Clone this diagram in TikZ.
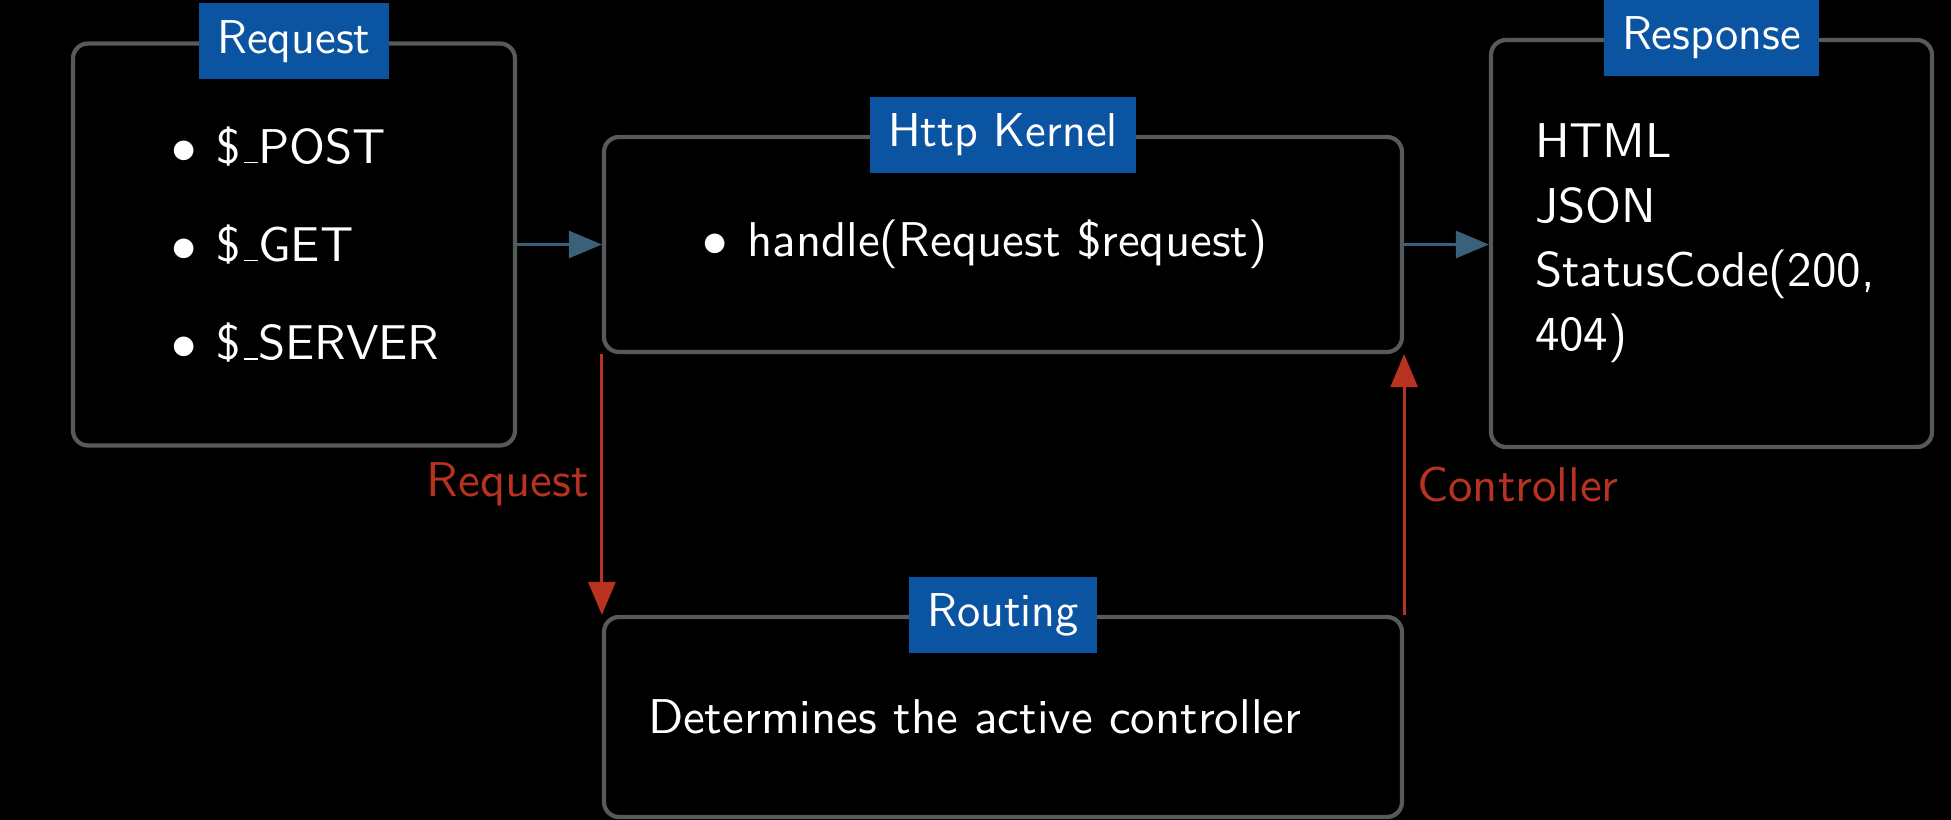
\documentclass[tikz,border=0pt]{standalone}
\usepackage{fontspec}
\newfontfamily\bodysf{lmsans10-regular}[Extension=.otf]
\usetikzlibrary{arrows.meta,positioning}
\definecolor{boxgray}{HTML}{58595B}
\definecolor{tagblue}{HTML}{0B54A2}
\definecolor{flowblue}{HTML}{3B6079}
\definecolor{ctrlred}{HTML}{B83220}
\newcommand{\bitem}[1]{\hspace*{0.54cm}$\bullet$\hspace{0.2cm}#1}
\newcommand{\us}{\kern.06em\vbox{\hrule width.3em height .5pt}}

\begin{document}
\begin{tikzpicture}[
 font=\bodysf\fontsize{13.9}{18.3}\selectfont,
 box/.style={draw=boxgray,line width=1.2pt,rounded corners=0.15cm,text=white,align=left},
 tag/.style={fill=tagblue,text=white,minimum height=0.76cm,inner xsep=0.18cm,inner ysep=0pt,
  font=\sffamily\fontsize{13.5}{18.3}\selectfont},
 flow/.style={draw=flowblue,line width=0.8pt,-{Triangle[length=0.33cm,width=0.27cm]}},
 ctrl/.style={draw=ctrlred,line width=0.8pt,-{Triangle[length=0.33cm,width=0.27cm]}},
]
 % background
 \path[fill=black,use as bounding box] (0,0) rectangle (19.51,-8.20);

 % boxes
 \node[box,minimum width=4.42cm,minimum height=4.02cm,text width=3.54cm] (req) at (2.94,-2.445)
  {\bitem{\$\us POST}\\[9.6pt]\bitem{\$\us GET}\\[9.6pt]\bitem{\$\us SERVER}};
 \node[box,minimum width=7.98cm,minimum height=2.15cm,text width=7.10cm] (kernel) at (10.03,-2.445)
  {\bitem{handle(Request \$request)}};
 \node[box,minimum width=4.41cm,minimum height=4.07cm,text width=3.53cm] (resp) at (17.115,-2.435)
  {HTML\\JSON\\StatusCode(200,\\404)};
 \node[box,minimum width=7.98cm,minimum height=2.00cm,text width=7.10cm] (rout) at (10.03,-7.17)
  {Determines the active controller};

 % titles
 \foreach \n/\t in {req/Request,kernel/Http Kernel,resp/Response,rout/Routing}
  \node[tag] (\n-tag) at (\n.north) {\t};

 % connectors
 \draw[flow] (req.east) -- (kernel.west);
 \draw[flow] (kernel.east) -- (kernel.east -| resp.west);
 \draw[ctrl] (kernel.south west) -- (kernel.south west |- rout.north)
  node[midway,left,text=ctrlred] (l-req) {Request};
 \draw[ctrl] (rout.north east) -- (rout.north east |- kernel.south)
  node[midway,right,text=ctrlred] (l-ctrl) {Controller};
\end{tikzpicture}
\end{document}
